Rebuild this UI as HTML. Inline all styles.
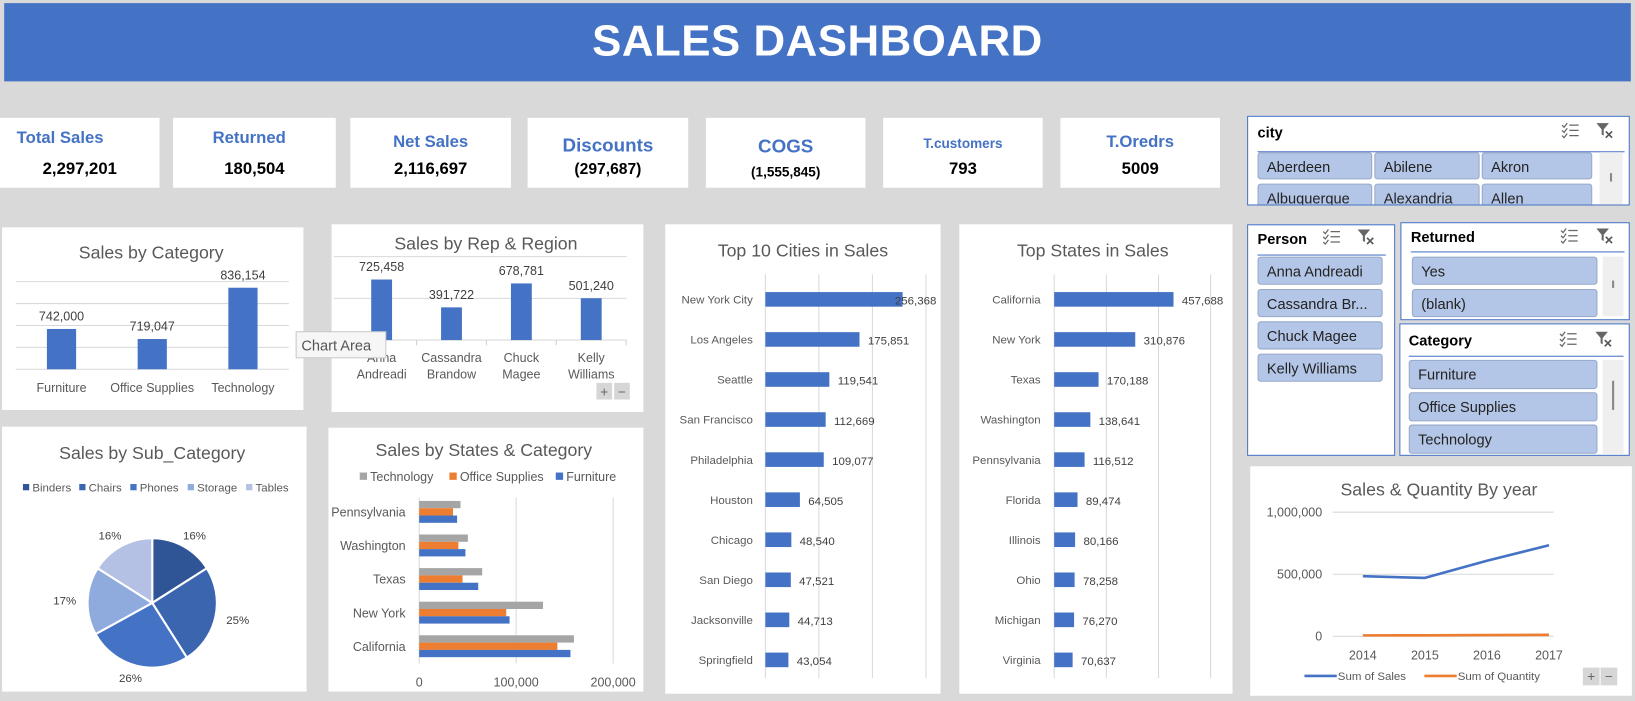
<!DOCTYPE html>
<html><head><meta charset="utf-8"><title>Sales Dashboard</title>
<style>
html,body{margin:0;padding:0;width:1635px;height:701px;overflow:hidden;background:#d9d9d9;font-family:"Liberation Sans",sans-serif}
#stage{position:absolute;left:0;top:0;width:1568px;height:672px;transform:scale(1.04273,1.04315);transform-origin:0 0;background:#d9d9d9}
.abs{position:absolute}
.card{position:absolute;background:#fff;top:113px;height:67px;text-align:center}
.card .lab{position:absolute;left:0;right:0;color:#4472c4;font-weight:bold}
.card .val{position:absolute;left:0;right:0;color:#000;font-weight:bold}
.panel{position:absolute;background:#fff}
.slicer{position:absolute;background:#fff;border:1.5px solid #4472c4;box-sizing:border-box;overflow:hidden}
.sh{position:absolute;font-weight:bold;font-size:14px;color:#000}
.sl{position:absolute;height:0;border-top:1.5px solid #4472c4}
.btn{position:absolute;background:#b4c6e7;border:1px solid #97a9c9;border-radius:3px;box-sizing:border-box;font-size:14px;color:#222;padding-left:8px;line-height:26px;white-space:nowrap;overflow:hidden}
.sb{position:absolute;background:#efefef}
.ico{position:absolute;width:18px;height:16px}
</style></head>
<body>
<div id="stage">
  <div class="abs" style="left:4px;top:3px;width:1560px;height:75px;background:#4472c4">
    <div style="position:absolute;left:0;right:0;top:12px;text-align:center;color:#fff;font-weight:bold;font-size:42px;letter-spacing:0.5px">SALES DASHBOARD</div>
  </div>

  <div class="card" style="left:0;width:153px">
    <div class="lab" style="top:11px;font-size:16px;text-align:left;left:16px">Total Sales</div>
    <div class="val" style="top:41px;font-size:16px;left:0">2,297,201</div>
  </div>
  <div class="card" style="left:166px;width:156px">
    <div class="lab" style="top:11px;font-size:16px;left:-10px">Returned</div>
    <div class="val" style="top:41px;font-size:16px">180,504</div>
  </div>
  <div class="card" style="left:336px;width:154px">
    <div class="lab" style="top:15px;font-size:16px">Net Sales</div>
    <div class="val" style="top:41px;font-size:16px">2,116,697</div>
  </div>
  <div class="card" style="left:506px;width:154px">
    <div class="lab" style="top:16px;font-size:18px">Discounts</div>
    <div class="val" style="top:41px;font-size:15px">(297,687)</div>
  </div>
  <div class="card" style="left:677px;width:153px">
    <div class="lab" style="top:17px;font-size:18px">COGS</div>
    <div class="val" style="top:44px;font-size:13px">(1,555,845)</div>
  </div>
  <div class="card" style="left:847px;width:153px">
    <div class="lab" style="top:17px;font-size:13px">T.customers</div>
    <div class="val" style="top:41px;font-size:16px">793</div>
  </div>
  <div class="card" style="left:1017px;width:153px">
    <div class="lab" style="top:15px;font-size:16px">T.Oredrs</div>
    <div class="val" style="top:41px;font-size:16px">5009</div>
  </div>

  <div class="panel" style="left:2px;top:218px;width:289px;height:175px"></div>
  <div class="panel" style="left:318px;top:215px;width:299px;height:180px"></div>
  <div class="panel" style="left:2px;top:409px;width:292px;height:254px"></div>
  <div class="panel" style="left:315px;top:410px;width:302px;height:253px"></div>
  <div class="panel" style="left:638px;top:215px;width:264px;height:450px"></div>
  <div class="panel" style="left:920px;top:215px;width:262px;height:450px"></div>
  <div class="panel" style="left:1199px;top:447px;width:366px;height:220px"></div>

  <svg id="charts" class="abs" style="left:0;top:0" width="1568" height="672" font-family="Liberation Sans, sans-serif">
    <text x="145" y="248" text-anchor="middle" font-size="17" fill="#595959">Sales by Category</text>
    <text x="466" y="239" text-anchor="middle" font-size="17" fill="#595959">Sales by Rep &amp; Region</text>
    <text x="146" y="440" text-anchor="middle" font-size="17" fill="#595959">Sales by Sub_Category</text>
    <text x="464" y="437" text-anchor="middle" font-size="17" fill="#595959">Sales by States &amp; Category</text>
    <text x="770" y="246" text-anchor="middle" font-size="17" fill="#595959">Top 10 Cities in Sales</text>
    <text x="1048" y="246" text-anchor="middle" font-size="17" fill="#595959">Top States in Sales</text>
    <text x="1380" y="475" text-anchor="middle" font-size="17" fill="#595959">Sales &amp; Quantity By year</text>
    <g id="gCat"></g><g id="gRep"></g><g id="gPie"></g><g id="gSt"></g><g id="gCity"></g><g id="gState"></g><g id="gYear"></g>
    <g>
      <rect x="284" y="318" width="86" height="25" fill="#f6f6f6" stroke="#c9c9c9"/>
      <text x="289" y="336" font-size="14" fill="#555">Chart Area</text>
    </g>
    <g>
      <rect x="572" y="367" width="15" height="16" fill="#d6d6d6"/>
      <text x="579.5" y="380" text-anchor="middle" font-size="13" fill="#666">+</text>
      <rect x="589" y="367" width="15" height="16" fill="#d6d6d6"/>
      <text x="596.5" y="380" text-anchor="middle" font-size="13" fill="#666">−</text>
    </g>
    <g>
      <rect x="1518" y="640" width="16" height="17" fill="#d6d6d6"/>
      <text x="1526" y="653" text-anchor="middle" font-size="13" fill="#666">+</text>
      <rect x="1535" y="640" width="16" height="17" fill="#d6d6d6"/>
      <text x="1543" y="653" text-anchor="middle" font-size="13" fill="#666">−</text>
    </g>
  </svg>

  <!-- Slicers -->
  <div class="slicer" style="left:1196px;top:111px;width:367px;height:86px">
    <div class="sh" style="left:9px;top:7px">city</div>
    <svg class="ico" style="left:300px;top:5px" viewBox="0 0 18 16"><path d="M1 3l2 2 3-4M1 8l2 2 3-4M1 13l2 2 3-4M8 3h9M8 8h9M8 13h9" stroke="#666" stroke-width="1.2" fill="none"/></svg>
    <svg class="ico" style="left:333px;top:5px" viewBox="0 0 18 16"><path d="M1 1h12l-5 6v6l-2-1V7z" fill="#666"/><path d="M10 9l6 6M16 9l-6 6" stroke="#555" stroke-width="1.6"/></svg>
    <div class="sl" style="left:9px;top:33px;width:352px"></div>
    <div class="btn" style="left:9px;top:34px;width:110px;height:26px">Aberdeen</div>
    <div class="btn" style="left:121px;top:34px;width:101px;height:26px">Abilene</div>
    <div class="btn" style="left:224px;top:34px;width:106px;height:26px">Akron</div>
    <div class="btn" style="left:9px;top:64px;width:110px;height:26px">Albuquerque</div>
    <div class="btn" style="left:121px;top:64px;width:101px;height:26px">Alexandria</div>
    <div class="btn" style="left:224px;top:64px;width:106px;height:26px">Allen</div>
    <div class="sb" style="left:337px;top:34px;width:22px;height:52px"><div style="position:absolute;left:10px;top:20px;width:2px;height:8px;background:#888"></div></div>
  </div>

  <div class="slicer" style="left:1196px;top:215px;width:142px;height:222px">
    <div class="sh" style="left:9px;top:5px">Person</div>
    <svg class="ico" style="left:71px;top:3px" viewBox="0 0 18 16"><path d="M1 3l2 2 3-4M1 8l2 2 3-4M1 13l2 2 3-4M8 3h9M8 8h9M8 13h9" stroke="#666" stroke-width="1.2" fill="none"/></svg>
    <svg class="ico" style="left:104px;top:3px" viewBox="0 0 18 16"><path d="M1 1h12l-5 6v6l-2-1V7z" fill="#666"/><path d="M10 9l6 6M16 9l-6 6" stroke="#555" stroke-width="1.6"/></svg>
    <div class="sl" style="left:9px;top:28px;width:123px"></div>
    <div class="btn" style="left:9px;top:30px;width:120px;height:27px">Anna Andreadi</div>
    <div class="btn" style="left:9px;top:61px;width:120px;height:27px">Cassandra Br...</div>
    <div class="btn" style="left:9px;top:92px;width:120px;height:27px">Chuck Magee</div>
    <div class="btn" style="left:9px;top:123px;width:120px;height:27px">Kelly Williams</div>
  </div>

  <div class="slicer" style="left:1343px;top:213px;width:220px;height:94px">
    <div class="sh" style="left:9px;top:5px">Returned</div>
    <svg class="ico" style="left:152px;top:4px" viewBox="0 0 18 16"><path d="M1 3l2 2 3-4M1 8l2 2 3-4M1 13l2 2 3-4M8 3h9M8 8h9M8 13h9" stroke="#666" stroke-width="1.2" fill="none"/></svg>
    <svg class="ico" style="left:186px;top:4px" viewBox="0 0 18 16"><path d="M1 1h12l-5 6v6l-2-1V7z" fill="#666"/><path d="M10 9l6 6M16 9l-6 6" stroke="#555" stroke-width="1.6"/></svg>
    <div class="sl" style="left:9px;top:27px;width:205px"></div>
    <div class="btn" style="left:10px;top:32px;width:178px;height:27px">Yes</div>
    <div class="btn" style="left:10px;top:63px;width:178px;height:27px">(blank)</div>
    <div class="sb" style="left:193px;top:32px;width:20px;height:57px"><div style="position:absolute;left:9px;top:23px;width:2px;height:7px;background:#888"></div></div>
  </div>

  <div class="slicer" style="left:1342px;top:310px;width:221px;height:127px">
    <div class="sh" style="left:8px;top:7px">Category</div>
    <svg class="ico" style="left:152px;top:6px" viewBox="0 0 18 16"><path d="M1 3l2 2 3-4M1 8l2 2 3-4M1 13l2 2 3-4M8 3h9M8 8h9M8 13h9" stroke="#666" stroke-width="1.2" fill="none"/></svg>
    <svg class="ico" style="left:186px;top:6px" viewBox="0 0 18 16"><path d="M1 1h12l-5 6v6l-2-1V7z" fill="#666"/><path d="M10 9l6 6M16 9l-6 6" stroke="#555" stroke-width="1.6"/></svg>
    <div class="sl" style="left:8px;top:30px;width:206px"></div>
    <div class="btn" style="left:8px;top:34px;width:181px;height:28px">Furniture</div>
    <div class="btn" style="left:8px;top:65px;width:181px;height:28px">Office Supplies</div>
    <div class="btn" style="left:8px;top:96px;width:181px;height:28px">Technology</div>
    <div class="sb" style="left:194px;top:34px;width:20px;height:90px"><div style="position:absolute;left:9px;top:20px;width:2px;height:28px;background:#888"></div></div>
  </div>
</div>

<script>
// ---- data ----
const catNames = ['Furniture', 'Office Supplies', 'Technology'];
const catSales = [742000, 719047, 836154];
const catTicks = [650000, 700000, 750000, 800000, 850000];

const repFirst = ['Anna', 'Cassandra', 'Chuck', 'Kelly'];
const repLast = ['Andreadi', 'Brandow', 'Magee', 'Williams'];
const repSales = [725458, 391722, 678781, 501240];
const repTicks = [0, 500000, 1000000];

const subNames = ['Binders', 'Chairs', 'Phones', 'Storage', 'Tables'];
const subPct = [16, 25, 26, 17, 16];

const stCatStates = ['California', 'New York', 'Texas', 'Washington', 'Pennsylvania'];
const stCatTech = [159600, 127700, 65000, 50200, 42600];
const stCatOffice = [142500, 89800, 44700, 40400, 34900];
const stCatFurn = [156000, 93200, 60900, 47700, 39100];
const stCatTicks = [0, 100000, 200000];
const stCatTickLabels = ['0', '100,000', '200,000'];

const cityNames = ['New York City', 'Los Angeles', 'Seattle', 'San Francisco', 'Philadelphia', 'Houston', 'Chicago', 'San Diego', 'Jacksonville', 'Springfield'];
const citySales = [256368, 175851, 119541, 112669, 109077, 64505, 48540, 47521, 44713, 43054];
const cityTicks = [0, 100000, 200000, 300000];

const stateNames = ['California', 'New York', 'Texas', 'Washington', 'Pennsylvania', 'Florida', 'Illinois', 'Ohio', 'Michigan', 'Virginia'];
const stateSales = [457688, 310876, 170188, 138641, 116512, 89474, 80166, 78258, 76270, 70637];
const stateTicks = [0, 200000, 400000, 600000];

const years = ['2014', '2015', '2016', '2017'];
const yearSales = [484247, 470533, 608474, 733947];
const yearQty = [7581, 7979, 9837, 12476];
const yearTicks = [0, 500000, 1000000];
const yearTickLabels = ['0', '500,000', '1,000,000'];

const NS = 'http://www.w3.org/2000/svg';
function mk(tag, attrs, parent) {
  const e = document.createElementNS(NS, tag);
  for (const k in attrs) e.setAttribute(k, attrs[k]);
  parent.appendChild(e);
  return e;
}
function fmt(v) { return Math.round(v).toLocaleString('en-US'); }
const TXT = '#595959';

// ---- Sales by Category ----
(function () {
  const g = document.getElementById('gCat');
  const yC = v => 354 - (v - 650000) / 200000 * 84;
  const xC = i => 59 + i * 87;
  catTicks.forEach((t, i) => {
    const l = mk('line', { x1: 15, x2: 277, y1: yC(t), y2: yC(t), stroke: '#d9d9d9', 'stroke-width': 1 }, g);
    
    
  });
  catSales.forEach((v, i) => {
    const r = mk('rect', { x: xC(i) - 14, y: yC(v), width: 28, height: 354 - yC(v), fill: '#4472c4' }, g);
    
    
    const t = mk('text', { x: xC(i), y: yC(v) - 8, 'text-anchor': 'middle', 'font-size': 12, fill: '#404040' }, g);
    t.textContent = fmt(v);
    
    
    const n = mk('text', { x: xC(i), y: 376, 'text-anchor': 'middle', 'font-size': 12, fill: TXT }, g);
    n.textContent = catNames[i];
    
    
  });
})();

// ---- Sales by Rep ----
(function () {
  const g = document.getElementById('gRep');
  const yR = v => 326 - v / 1000000 * 80;
  const xR = i => 366 + i * 67;
  repTicks.forEach(t => {
    const l = mk('line', { x1: 320, x2: 601, y1: yR(t), y2: yR(t), stroke: '#d9d9d9' }, g);
    
    
  });
  for (let i = 0; i <= repSales.length; i++) {
    const tk = mk('line', { x1: 332.5 + i * 67, x2: 332.5 + i * 67, y1: 326, y2: 331, stroke: '#d0d0d0' }, g);
    
    
  }
  repSales.forEach((v, i) => {
    const r = mk('rect', { x: xR(i) - 10, y: yR(v), width: 20, height: 326 - yR(v), fill: '#4472c4' }, g);
    
    
    const t = mk('text', { x: xR(i), y: yR(v) - 8, 'text-anchor': 'middle', 'font-size': 12, fill: '#404040' }, g);
    t.textContent = fmt(v);
    
    
    const a = mk('text', { x: xR(i), y: 347, 'text-anchor': 'middle', 'font-size': 12, fill: TXT }, g);
    a.textContent = repFirst[i];
    
    
    const b = mk('text', { x: xR(i), y: 363, 'text-anchor': 'middle', 'font-size': 12, fill: TXT }, g);
    b.textContent = repLast[i];
    
    
  });
})();

// ---- Pie ----
(function () {
  const g = document.getElementById('gPie');
  const cols = ['#2f5597', '#3c65b0', '#4472c4', '#8faadc', '#b4c0e4'];
  const cx = 146, cy = 578, r = 62;
  const total = subPct.reduce((a, b) => a + b, 0);
  let acc = 0;
  const lgX = [22, 76, 125, 180, 236];
  subPct.forEach((p, i) => {
    const a0 = acc / total * 2 * Math.PI; acc += p;
    const a1 = acc / total * 2 * Math.PI;
    const x0 = cx + r * Math.sin(a0), y0 = cy - r * Math.cos(a0);
    const x1 = cx + r * Math.sin(a1), y1 = cy - r * Math.cos(a1);
    const large = (a1 - a0) > Math.PI ? 1 : 0;
    const s = mk('path', { d: `M${cx},${cy} L${x0},${y0} A${r},${r} 0 ${large} 1 ${x1},${y1} Z`, fill: cols[i], stroke: '#fff', 'stroke-width': 2 }, g);
    
    
    const am = (a0 + a1) / 2;
    const t = mk('text', { x: cx + 84 * Math.sin(am), y: cy - 74 * Math.cos(am) + 4, 'text-anchor': 'middle', 'font-size': 11, fill: '#404040' }, g);
    t.textContent = p + '%';
    
    
    const lr = mk('rect', { x: lgX[i], y: 464, width: 6, height: 6, fill: cols[i] }, g);
    
    
    const lt = mk('text', { x: lgX[i] + 9, y: 471, 'font-size': 11, fill: TXT }, g);
    lt.textContent = subNames[i];
    
    
  });
})();

// ---- States & Category ----
(function () {
  const g = document.getElementById('gSt');
  const xS = v => 402 + v / 100000 * 93;
  const yS = i => 620 - i * 32.2;
  stCatTicks.forEach((t, i) => {
    const l = mk('line', { x1: xS(t), x2: xS(t), y1: 477, y2: 636, stroke: '#d9d9d9' }, g);
    
    
    const lb = mk('text', { x: xS(t), y: 658, 'text-anchor': 'middle', 'font-size': 12, fill: TXT }, g);
    lb.textContent = stCatTickLabels[i];
    
    
  });
  const series = [[stCatTech, '#a5a5a5', -11], [stCatOffice, '#ed7d31', -4], [stCatFurn, '#4472c4', 3]];
  stCatStates.forEach((s, i) => {
    series.forEach(([arr, col, off], k) => {
      const r = mk('rect', { x: 402, y: yS(i) + off, width: xS(arr[i]) - 402, height: 7, fill: col }, g);
      
      
    });
    const t = mk('text', { x: 389, y: yS(i) + 4, 'text-anchor': 'end', 'font-size': 12, fill: TXT }, g);
    t.textContent = s;
    
    
  });
  const lg = [['Technology', '#a5a5a5', 345], ['Office Supplies', '#ed7d31', 431], ['Furniture', '#4472c4', 533]];
  lg.forEach(([n, c, x]) => {
    const r = mk('rect', { x: x, y: 453, width: 7, height: 7, fill: c }, g);
    
    
    const t = mk('text', { x: x + 10, y: 461, 'font-size': 12, fill: TXT }, g);
    t.textContent = n;
    
    
  });
})();

// ---- Top cities / states ----
function hbar(gid, names, vals, ticks, x0, perUnit, labelX, prefix, maxLabelX) {
  const g = document.getElementById(gid);
  const xF = v => x0 + v * perUnit;
  const yF = i => 287 + i * 38.4;
  ticks.forEach(t => {
    const l = mk('line', { x1: xF(t), x2: xF(t), y1: 263, y2: 650, stroke: '#d9d9d9' }, g);
    
    
  });
  vals.forEach((v, i) => {
    const r = mk('rect', { x: x0, y: yF(i) - 7, width: xF(v) - x0, height: 14, fill: '#4472c4' }, g);
    
    
    const n = mk('text', { x: labelX, y: yF(i) + 4, 'text-anchor': 'end', 'font-size': 11, fill: TXT }, g);
    n.textContent = names[i];
    
    
    let lx = xF(v) + 8, anchor = 'start';
    if (lx + 45 > maxLabelX) { lx = maxLabelX; anchor = 'end'; }
    const t = mk('text', { x: lx, y: yF(i) + 5, 'text-anchor': anchor, 'font-size': 11, fill: '#404040' }, g);
    t.textContent = fmt(v);
    
    
  });
}
hbar('gCity', cityNames, citySales, cityTicks, 734, 154 / 300000, 722, 'cities', 898);
hbar('gState', stateNames, stateSales, stateTicks, 1011, 50 / 200000, 998, 'states', 1182);

// ---- Sales & Quantity by year ----
(function () {
  const g = document.getElementById('gYear');
  const yY = v => 610 - v / 1000000 * 119;
  const xY = i => 1307 + i * 59.5;
  yearTicks.forEach((t, i) => {
    const l = mk('line', { x1: 1278, x2: 1490, y1: yY(t), y2: yY(t), stroke: '#d9d9d9' }, g);
    
    
    const lb = mk('text', { x: 1268, y: yY(t) + 4, 'text-anchor': 'end', 'font-size': 12, fill: TXT }, g);
    lb.textContent = yearTickLabels[i];
    
    
  });
  years.forEach((y, i) => {
    const t = mk('text', { x: xY(i), y: 632, 'text-anchor': 'middle', 'font-size': 12, fill: TXT }, g);
    t.textContent = y;
    
    
  });
  const sp = mk('polyline', { points: yearSales.map((v, i) => xY(i) + ',' + yY(v)).join(' '), fill: 'none', stroke: '#4472c4', 'stroke-width': 2.5, 'stroke-linejoin': 'round' }, g);
  
  
  const qp = mk('polyline', { points: yearQty.map((v, i) => xY(i) + ',' + yY(v)).join(' '), fill: 'none', stroke: '#ed7d31', 'stroke-width': 2.5 }, g);
  
  
  const l1 = mk('line', { x1: 1251, x2: 1282, y1: 648, y2: 648, stroke: '#4472c4', 'stroke-width': 2.5 }, g);
  
  
  const t1 = mk('text', { x: 1283, y: 652, 'font-size': 11, fill: TXT }, g);
  t1.textContent = 'Sum of Sales';
  
  
  const l2 = mk('line', { x1: 1366, x2: 1397, y1: 648, y2: 648, stroke: '#ed7d31', 'stroke-width': 2.5 }, g);
  
  
  const t2 = mk('text', { x: 1398, y: 652, 'font-size': 11, fill: TXT }, g);
  t2.textContent = 'Sum of Quantity';
  
  
})();
</script>
</body></html>
